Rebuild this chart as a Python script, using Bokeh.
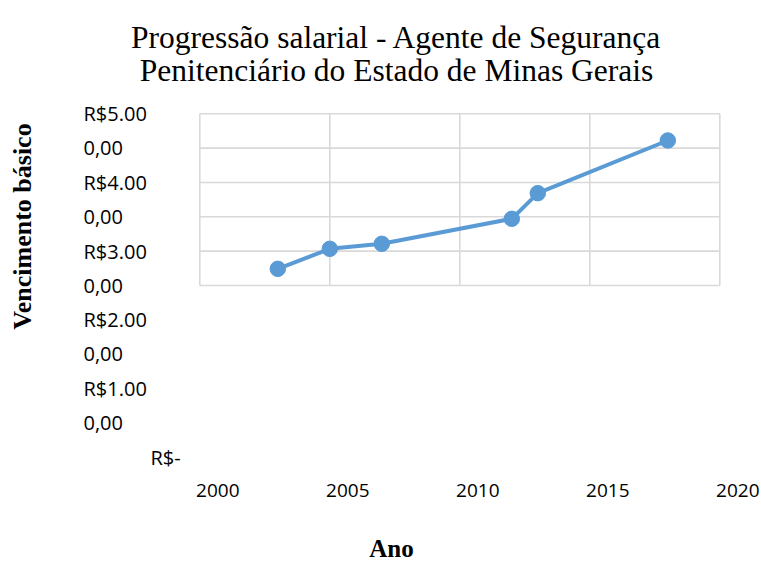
from bokeh.plotting import figure
from bokeh.models import Range1d
from bokeh.core.properties import value
from bokeh.embed import file_html
from bokeh.resources import INLINE
import math

# ---- data ----
anos = [2003, 2005, 2007, 2012, 2013, 2018]
vencimento = [485, 1068, 1214, 1942, 2689, 4223]

x_ticks = [2000, 2005, 2010, 2015, 2020]
x_tick_labels = ["2000", "2005", "2010", "2015", "2020"]
y_grid = [0, 1000, 2000, 3000, 4000, 5000]
# tick labels as rendered (wrapped) in the original
y_tick_labels = ["R$5.00", "0,00", "R$4.00", "0,00", "R$3.00", "0,00",
                 "R$2.00", "0,00", "R$1.00", "0,00"]
y_tick_pos = [5000, 4000, 3000, 2000, 1000, 0, -1000, -2000, -3000, -4000]
zero_label = "R$-"
zero_label_pos = -5000

title_lines = ["Progressão salarial - Agente de Segurança",
               "Penitenciário do Estado de Minas Gerais"]
y_title = "Vencimento básico"
x_title = "Ano"

LINE_COLOR = "#5b9bd5"
GRID = "#d9d9d9"

W, H = 761, 563
PX_PER_YEAR = 26.0
PX_PER_UNIT = 34.34 / 1000.0
FRAME_LEFT_PX, FRAME_ZERO_PY = 199.3, 285.0

x0 = 2000 - FRAME_LEFT_PX / PX_PER_YEAR
y1 = FRAME_ZERO_PY / PX_PER_UNIT
y0 = -(H - FRAME_ZERO_PY) / PX_PER_UNIT


def px_x(px):
    return x0 + px / PX_PER_YEAR


def px_y(py):
    return (FRAME_ZERO_PY - py) / PX_PER_UNIT


p = figure(width=W, height=H, output_backend="svg", toolbar_location=None,
           x_range=Range1d(x0, x0 + W / PX_PER_YEAR), y_range=Range1d(y0, y1),
           min_border=0)
p.axis.visible = False
p.grid.visible = False
p.outline_line_color = None

# grid + frame (Excel style)
p.segment(x0=x_ticks, x1=x_ticks, y0=[y_grid[0]] * len(x_ticks), y1=[y_grid[-1]] * len(x_ticks),
          line_color=GRID, line_width=1.6)
p.segment(x0=[x_ticks[0]] * len(y_grid), x1=[x_ticks[-1]] * len(y_grid), y0=y_grid, y1=y_grid,
          line_color=GRID, line_width=1.6)

p.line(anos, vencimento, line_color=LINE_COLOR, line_width=4)
p.scatter(anos, vencimento, size=15.5, fill_color=LINE_COLOR, line_color=LINE_COLOR)

TICK_FONT = value("Open Sans")
p.text(x=[px_x(83)] * len(y_tick_labels), y=y_tick_pos, text=y_tick_labels,
       text_font=TICK_FONT, text_font_size="20px", text_color="#000000",
       text_align="left", text_baseline="middle")
p.text(x=[px_x(150)], y=[zero_label_pos], text=[zero_label],
       text_font=TICK_FONT, text_font_size="20px", text_color="#000000",
       text_align="left", text_baseline="middle")

# x tick labels (shifted right as in the original)
p.text(x=[t + 18 / PX_PER_YEAR for t in x_ticks], y=[px_y(490)] * len(x_ticks),
       text=x_tick_labels, text_font=TICK_FONT, text_font_size="19px",
       text_color="#000000", text_align="center", text_baseline="middle")

# title
p.text(x=[px_x(396)] * 2, y=[px_y(37), px_y(70)], text=title_lines,
       text_font=value("Liberation Serif"), text_font_size="31.5px",
       text_color="#000000", text_align="center", text_baseline="middle")

p.text(x=[px_x(22)], y=[px_y(226)], text=[y_title], angle=math.pi / 2,
       text_font=value("Liberation Serif"), text_font_size="26px",
       text_font_style="bold", text_color="#000000",
       text_align="center", text_baseline="middle")
p.text(x=[px_x(391)], y=[px_y(548)], text=[x_title],
       text_font=value("Liberation Serif"), text_font_size="25px",
       text_font_style="bold", text_color="#000000",
       text_align="center", text_baseline="middle")

open("out.html", "w").write(file_html(p, INLINE))
